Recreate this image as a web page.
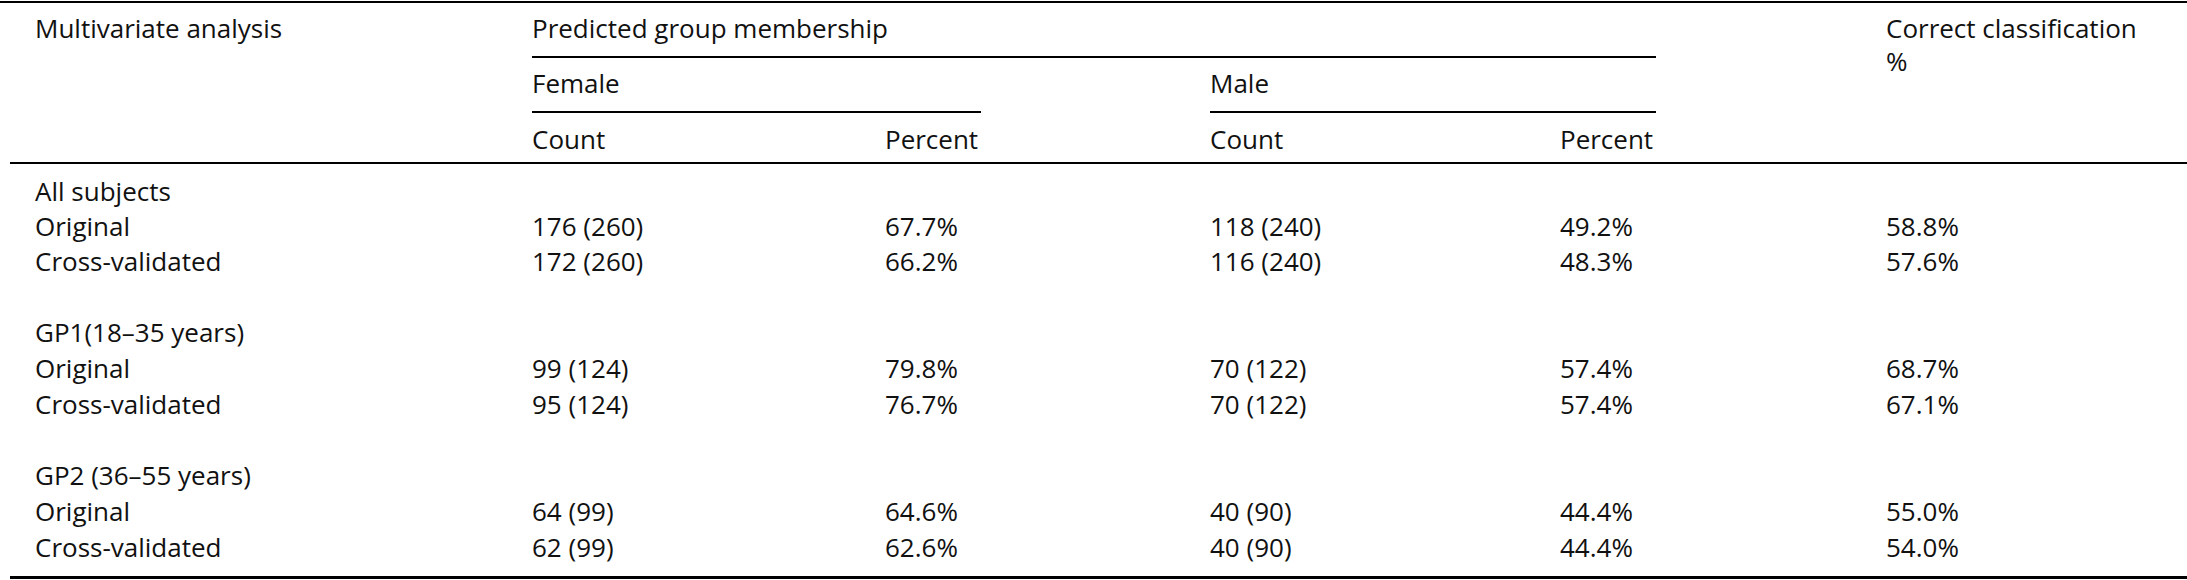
<!DOCTYPE html>
<html><head><meta charset="utf-8">
<script src="https://cdn.jsdelivr.net/npm/chart.js@4"></script>
<style>
html,body{margin:0;padding:0;background:#fff;width:2187px;height:580px;overflow:hidden}
#t{position:relative;width:2187px;height:580px;font-family:"Open Sans",sans-serif;font-size:26px;color:#111}
.tx{position:absolute;white-space:nowrap;line-height:1}
.ln{position:absolute;background:#000}
</style></head><body><div id="t"></div>
<script>
const rowLabels=["All subjects","Original","Cross-validated","","GP1(18\u201335 years)","Original","Cross-validated","","GP2 (36\u201355 years)","Original","Cross-validated"];
const femaleCount=["","176 (260)","172 (260)","","","99 (124)","95 (124)","","","64 (99)","62 (99)"];
const femalePct=["","67.7%","66.2%","","","79.8%","76.7%","","","64.6%","62.6%"];
const maleCount=["","118 (240)","116 (240)","","","70 (122)","70 (122)","","","40 (90)","40 (90)"];
const malePct=["","49.2%","48.3%","","","57.4%","57.4%","","","44.4%","44.4%"];
const correctPct=["","58.8%","57.6%","","","68.7%","67.1%","","","55.0%","54.0%"];

const t=document.getElementById('t');
function tx(s,x,y){const d=document.createElement('div');d.className='tx';d.textContent=s;d.style.left=x+'px';d.style.top=(y-14)+'px';t.appendChild(d);}
function ln(x1,x2,y,h){const d=document.createElement('div');d.className='ln';d.style.left=x1+'px';d.style.width=(x2-x1)+'px';d.style.top=y+'px';d.style.height=h+'px';t.appendChild(d);}
const X=[35,532,885,1210,1560,1886];
ln(0,2187,1,2);ln(532,1656,56,2);ln(532,981,111,2);ln(1210,1656,111,2);ln(10,2187,162,2);ln(10,2187,576,3);
tx("Multivariate analysis",X[0],29);tx("Predicted group membership",X[1],29);
tx("Correct classification",X[5],29);tx("%",X[5],62);
tx("Female",X[1],84);tx("Male",X[3],84);
tx("Count",X[1],140);tx("Percent",X[2],140);tx("Count",X[3],140);tx("Percent",X[4],140);
const cols=[rowLabels,femaleCount,femalePct,maleCount,malePct,correctPct];
const ys=[192,227,262,297,333,369,405,440,476,512,548];
rowLabels.forEach((_,i)=>cols.forEach((c,j)=>{if(c[i])tx(c[i],X[j],ys[i]);}));
</script></body></html>
